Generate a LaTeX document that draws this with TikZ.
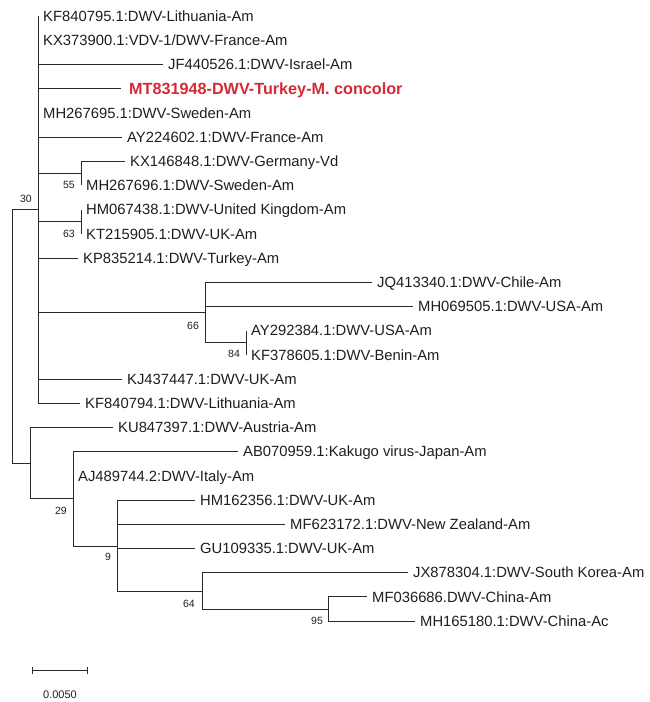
\documentclass[tikz,border=0pt]{standalone}
\usepackage{fontspec}
\setmainfont{Liberation Sans}
\usepackage{xcolor}
\usepackage{tikz}
\usetikzlibrary{arrows.meta}
\definecolor{ink}{HTML}{1E1E1E}
\definecolor{edge}{HTML}{2A2A2A}
\definecolor{hilite}{HTML}{D42A33}

\begin{document}
\begin{tikzpicture}[
  x=1pt,y=-1pt,
  br/.style={draw=edge,line width=1pt},
  tip/.style={anchor=west,inner xsep=5pt,inner ysep=0pt,text height=10.5pt,text depth=0pt,
              font=\fontsize{14.8}{16}\selectfont,text=ink},
  hit/.style={tip,inner xsep=8pt,text height=11.6pt,font=\fontsize{16.2}{18}\selectfont\bfseries,text=hilite},
  bs/.style={inner sep=0pt,font=\fontsize{10.5}{12}\selectfont,text=ink},
  sc/.style={bs,font=\fontsize{11}{12}\selectfont}]
\useasboundingbox (0,0) rectangle (649,702);
% inner nodes of the tree
\coordinate (root) at (12,336);
\coordinate (n30)  at (38,209.6);
\coordinate (n55)  at (81,173.3);
\coordinate (n63)  at (81,221.7);
\coordinate (n66)  at (205,312.5);
\coordinate (n84)  at (246,342.7);
\coordinate (nb)   at (30,463);
\coordinate (n29)  at (73,498.8);
\coordinate (n9)   at (117,546);
\coordinate (n64)  at (202,591);
\coordinate (n95)  at (328,609);
% taxa
\node[tip] (kf840795) at (38,16)    {KF840795.1:DWV-Lithuania-Am};
\node[tip] (kx373900) at (38,40.2)  {KX373900.1:VDV-1/DWV-France-Am};
\node[tip] (jf440526) at (163,64.4) {JF440526.1:DWV-Israel-Am};
\node[hit] (mt831948) at (121,88.6) {MT831948-DWV-Turkey-M. concolor};
\node[tip] (mh267695) at (38,112.8) {MH267695.1:DWV-Sweden-Am};
\node[tip] (ay224602) at (122,137)  {AY224602.1:DWV-France-Am};
\node[tip] (kx146848) at (125,161.2){KX146848.1:DWV-Germany-Vd};
\node[tip] (mh267696) at (81,185.4) {MH267696.1:DWV-Sweden-Am};
\node[tip] (hm067438) at (81,209.6) {HM067438.1:DWV-United Kingdom-Am};
\node[tip] (kt215905) at (81,233.8) {KT215905.1:DWV-UK-Am};
\node[tip] (kp835214) at (78,258)   {KP835214.1:DWV-Turkey-Am};
\node[tip] (jq413340) at (372,282.2){JQ413340.1:DWV-Chile-Am};
\node[tip] (mh069505) at (413,306.4){MH069505.1:DWV-USA-Am};
\node[tip] (ay292384) at (246,330.6){AY292384.1:DWV-USA-Am};
\node[tip] (kf378605) at (246,354.8){KF378605.1:DWV-Benin-Am};
\node[tip] (kj437447) at (122,379)  {KJ437447.1:DWV-UK-Am};
\node[tip] (kf840794) at (80,403.2) {KF840794.1:DWV-Lithuania-Am};
\node[tip] (ku847397) at (113,427.4){KU847397.1:DWV-Austria-Am};
\node[tip] (ab070959) at (238,451.6){AB070959.1:Kakugo virus-Japan-Am};
\node[tip] (aj489744) at (73,475.8) {AJ489744.2:DWV-Italy-Am};
\node[tip] (hm162356) at (195,500)  {HM162356.1:DWV-UK-Am};
\node[tip] (mf623172) at (285,524.2){MF623172.1:DWV-New Zealand-Am};
\node[tip] (gu109335) at (195,548.4){GU109335.1:DWV-UK-Am};
\node[tip] (jx878304) at (408,572.6){JX878304.1:DWV-South Korea-Am};
\node[tip] (mf036686) at (367,596.8){MF036686.DWV-China-Am};
\node[tip] (mh165180) at (415,621)  {MH165180.1:DWV-China-Ac};
% branches
\draw[br] (root) |- (n30); \draw[br] (root) |- (nb);
\draw[br] (n30) |- (kf840795.west); \draw[br] (n30) |- (kx373900.west);
\draw[br] (n30) |- (jf440526.west); \draw[br] (n30) |- (mt831948.west);
\draw[br] (n30) |- (mh267695.west); \draw[br] (n30) |- (ay224602.west);
\draw[br] (n30) |- (n55); \draw[br] (n30) |- (n63);
\draw[br] (n30) |- (kp835214.west); \draw[br] (n30) |- (n66);
\draw[br] (n30) |- (kj437447.west); \draw[br] (n30) |- (kf840794.west);
\draw[br] (n55) |- (kx146848.west); \draw[br] (n55) |- (mh267696.west);
\draw[br] (n63) |- (hm067438.west); \draw[br] (n63) |- (kt215905.west);
\draw[br] (n66) |- (jq413340.west); \draw[br] (n66) |- (mh069505.west);
\draw[br] (n66) |- (n84);
\draw[br] (n84) |- (ay292384.west); \draw[br] (n84) |- (kf378605.west);
\draw[br] (nb) |- (ku847397.west); \draw[br] (nb) |- (n29);
\draw[br] (n29) |- (ab070959.west); \draw[br] (n29) |- (aj489744.west);
\draw[br] (n29) |- (n9);
\draw[br] (n9) |- (hm162356.west); \draw[br] (n9) |- (mf623172.west);
\draw[br] (n9) |- (gu109335.west); \draw[br] (n9) |- (n64);
\draw[br] (n64) |- (jx878304.west); \draw[br] (n64) |- (n95);
\draw[br] (n95) |- (mf036686.west); \draw[br] (n95) |- (mh165180.west);
% bootstrap values
\node[bs] (b30) at (26,199)  {30};
\node[bs] (b55) at (69,185)  {55};
\node[bs] (b63) at (69,234)  {63};
\node[bs] (b66) at (193,326) {66};
\node[bs] (b84) at (234,354) {84};
\node[bs] (b29) at (61,511)  {29};
\node[bs] (b9)  at (108,557) {9};
\node[bs] (b64) at (189,604) {64};
\node[bs] (b95) at (317,621) {95};
% scale bar
\coordinate (s0) at (32,670);
\coordinate (s1) at (88,670);
\draw[br,{Bar[width=7pt]}-{Bar[width=7pt]}] (s0) -- (s1);
\node[sc] (scl) at (60,695) {0.0050};
\end{tikzpicture}
\end{document}
